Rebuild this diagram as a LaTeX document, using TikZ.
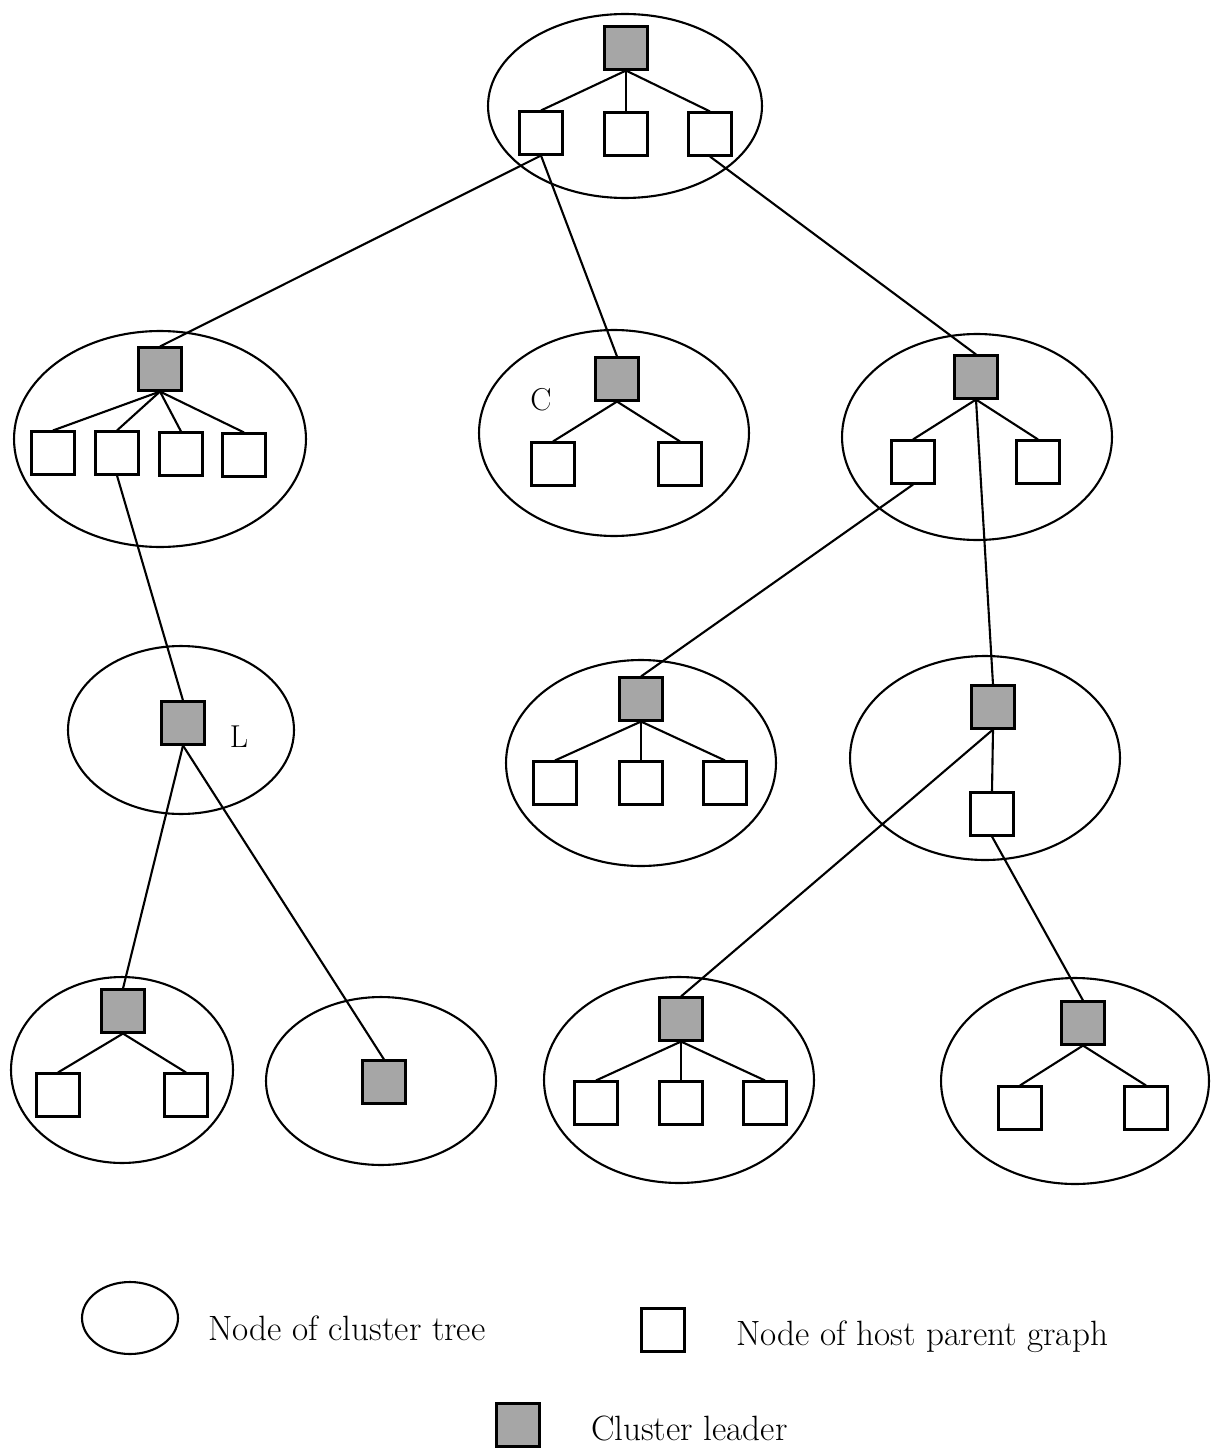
\documentclass[tikz,border=0pt]{standalone}
\usepackage{tikz}
\usetikzlibrary{shapes.geometric,positioning}

\begin{document}
\begin{tikzpicture}[x=0.02cm, y=-0.02cm, very thick,
  cluster/.style n args={2}{draw, ellipse, inner sep=0pt, minimum width=#1, minimum height=#2},
  host/.style = {draw, rectangle, inner sep=0pt, minimum size=0.86cm},
  leader/.style = {host, fill=black!35},
  tag/.style = {inner sep=0pt, font=\fontsize{18}{22}\selectfont},
  lbl/.style = {inner sep=0pt, font=\fontsize{20}{24}\selectfont}]
\useasboundingbox (0,0) rectangle (1212,1449);

% cluster tree nodes
\node[cluster={5.48cm}{3.68cm}] (kt) at (625,106) {};
\node[cluster={5.84cm}{4.32cm}] (ka) at (160,439) {};
\node[cluster={5.4cm}{4.12cm}] (kb) at (614,433) {};
\node[cluster={5.4cm}{4.12cm}] (kc) at (977,437) {};
\node[cluster={4.52cm}{3.36cm}] (kd) at (181,730) {};
\node[cluster={5.4cm}{4.12cm}] (ke) at (641,763) {};
\node[cluster={5.4cm}{4.08cm}] (kf) at (985,758) {};
\node[cluster={4.44cm}{3.72cm}] (kg) at (122,1070) {};
\node[cluster={4.6cm}{3.36cm}] (kh) at (381,1081) {};
\node[cluster={5.4cm}{4.12cm}] (ki) at (679,1080) {};
\node[cluster={5.36cm}{4.12cm}] (kj) at (1075,1081) {};

% leaders and host nodes
\node[leader] (t) at (626,48) {};
\node[host] (t1) at (541,133) {};
\node[host] (t2) at (626,134) {};
\node[host] (t3) at (710,134) {};

\node[leader] (a) at (160,369) {};
\node[host] (a1) at (53,453) {};
\node[host] (a2) at (117,453) {};
\node[host] (a3) at (181,454) {};
\node[host] (a4) at (244,455) {};

\node[leader] (b) at (617,379) {};
\node[host] (b1) at (553,464) {};
\node[host] (b2) at (680,464) {};
\node[tag] (lc) at (541,400) {C};

\node[leader] (c) at (976,377) {};
\node[host] (c1) at (913,462) {};
\node[host] (c2) at (1038,462) {};

\node[leader] (d) at (183,723) {};
\node[tag] (ll) at (239,737) {L};

\node[leader] (e) at (641,699) {};
\node[host] (e1) at (555,783) {};
\node[host] (e2) at (641,783) {};
\node[host] (e3) at (725,783) {};

\node[leader] (f) at (993,707) {};
\node[host] (f1) at (992,814) {};

\node[leader] (g) at (123,1011) {};
\node[host] (g1) at (58,1095) {};
\node[host] (g2) at (186,1095) {};

\node[leader] (h) at (384,1082) {};

\node[leader] (i) at (681,1019) {};
\node[host] (i1) at (596,1103) {};
\node[host] (i2) at (681,1103) {};
\node[host] (i3) at (765,1103) {};

\node[leader] (j) at (1083,1023) {};
\node[host] (j1) at (1020,1108) {};
\node[host] (j2) at (1146,1108) {};

% edges inside clusters
\draw[-] (t.south) -- (t1.north);
\draw[-] (t.south) -- (t2.north);
\draw[-] (t.south) -- (t3.north);
\draw[-] (a.south) -- (a1.north);
\draw[-] (a.south) -- (a2.north);
\draw[-] (a.south) -- (a3.north);
\draw[-] (a.south) -- (a4.north);
\draw[-] (b.south) -- (b1.north);
\draw[-] (b.south) -- (b2.north);
\draw[-] (c.south) -- (c1.north);
\draw[-] (c.south) -- (c2.north);
\draw[-] (e.south) -- (e1.north);
\draw[-] (e.south) -- (e2.north);
\draw[-] (e.south) -- (e3.north);
\draw[-] (f.south) -- (f1.north);
\draw[-] (g.south) -- (g1.north);
\draw[-] (g.south) -- (g2.north);
\draw[-] (i.south) -- (i1.north);
\draw[-] (i.south) -- (i2.north);
\draw[-] (i.south) -- (i3.north);
\draw[-] (j.south) -- (j1.north);
\draw[-] (j.south) -- (j2.north);

% edges between clusters
\draw[-] (t1.south) -- (a.north);
\draw[-] (t1.south) -- (b.north);
\draw[-] (t3.south) -- (c.north);
\draw[-] (a2.south) -- (d.north);
\draw[-] (c1.south) -- (e.north);
\draw[-] (c.south) -- (f.north);
\draw[-] (d.south) -- (g.north);
\draw[-] (d.south) -- (h.north);
\draw[-] (f.south) -- (i.north);
\draw[-] (f1.south) -- (j.north);

% legend
\node[cluster={1.92cm}{1.44cm}] (lgk) at (130,1318) {};
\node[lbl, anchor=base west] (lgktxt) at (207,1340) {Node of cluster tree};
\node[host] (lgh) at (663,1330) {};
\node[lbl, anchor=base west] (lghtxt) at (735,1345) {Node of host parent graph};
\node[leader] (lgl) at (518,1425) {};
\node[lbl, anchor=base west] (lglt) at (590,1440) {Cluster leader};
\end{tikzpicture}
\end{document}
